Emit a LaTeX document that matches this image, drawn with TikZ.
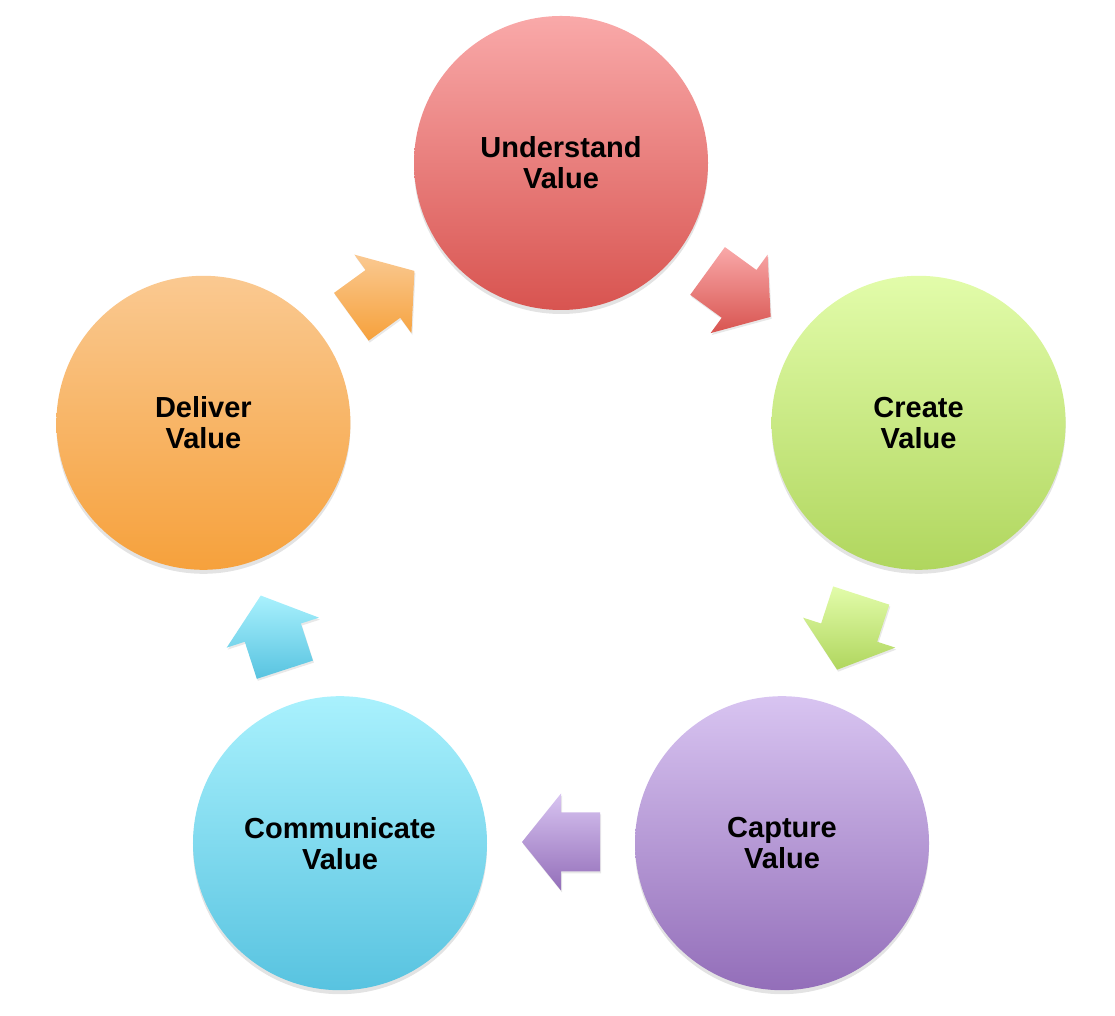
\documentclass[tikz,border=0pt]{standalone}
\usepackage{fontspec}
\setmainfont{Liberation Sans}
\usetikzlibrary{shadows}
\definecolor{redT}{HTML}{F9A9A9}\definecolor{redB}{HTML}{D85450}
\definecolor{grnT}{HTML}{E2FCAA}\definecolor{grnB}{HTML}{B0D65E}
\definecolor{purT}{HTML}{D8C4F1}\definecolor{purB}{HTML}{936EB9}
\definecolor{bluT}{HTML}{A9F1FD}\definecolor{bluB}{HTML}{58C3E0}
\definecolor{oraT}{HTML}{FAC991}\definecolor{oraB}{HTML}{F6A13C}
\tikzset{
  cyclebubble/.style={circle, minimum size=294pt, inner sep=0pt, align=center,
    font=\fontsize{29}{31}\selectfont\bfseries, text=black,
    drop shadow={opacity=0.22, shadow xshift=0pt, shadow yshift=-4pt}},
  cyclearrowstyle/.style={draw=none,
    drop shadow={opacity=0.18, shadow xshift=1pt, shadow yshift=-2pt}}
}
\newcommand\cyclearrow[4]{%
  \begin{scope}[shift={(561pt,477pt)}, shift={(#1:303pt)}, rotate=#1-90]
    \coordinate (#2-1) at (-39pt,-29.5pt);
    \coordinate (#2-2) at (0pt,-29.5pt);
    \coordinate (#2-3) at (0pt,-48.5pt);
    \coordinate (#2-4) at (39pt,0pt);
    \coordinate (#2-5) at (0pt,48.5pt);
    \coordinate (#2-6) at (0pt,29.5pt);
    \coordinate (#2-7) at (-39pt,29.5pt);
  \end{scope}
  \path[cyclearrowstyle, top color=#3, bottom color=#4]
    (#2-1) -- (#2-2) -- (#2-3) -- (#2-4) -- (#2-5) -- (#2-6) -- (#2-7) -- cycle;
}
\begin{document}
\begin{tikzpicture}[x=1pt,y=1pt]
\useasboundingbox (0,0) rectangle (1115,1016);
\begin{scope}[shift={(561pt,477pt)}]
  \node[cyclebubble, top color=redT, bottom color=redB] (understand) at (90:376pt) {Understand\\Value};
  \node[cyclebubble, top color=grnT, bottom color=grnB] (create) at (18:376pt) {Create\\Value};
  \node[cyclebubble, top color=purT, bottom color=purB] (capture) at (-54:376pt) {Capture\\Value};
  \node[cyclebubble, top color=bluT, bottom color=bluB] (communicate) at (-126:376pt) {Communicate\\Value};
  \node[cyclebubble, top color=oraT, bottom color=oraB] (deliver) at (162:376pt) {Deliver\\Value};
\end{scope}
\cyclearrow{54}{aUC}{redT}{redB}
\cyclearrow{-18}{aCC}{grnT}{grnB}
\cyclearrow{-90}{aCM}{purT}{purB}
\cyclearrow{-162}{aMD}{bluT}{bluB}
\cyclearrow{126}{aDU}{oraT}{oraB}
\end{tikzpicture}
\end{document}
